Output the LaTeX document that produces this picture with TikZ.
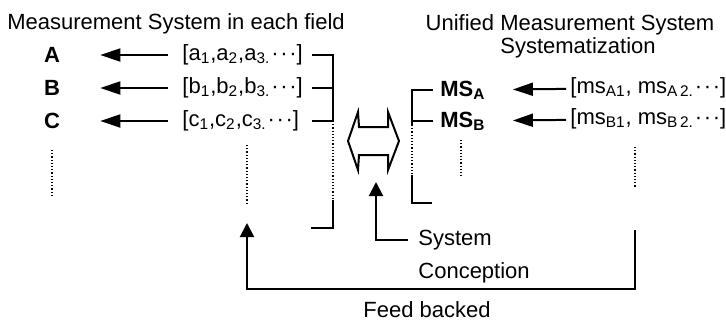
\documentclass[tikz,border=0pt]{standalone}
\usepackage{fontspec}
\setmainfont{Liberation Sans}
\usetikzlibrary{calc}
\usetikzlibrary{arrows.meta}
\tikzset{title/.style={inner sep=0, font=\fontsize{11}{13}\selectfont}}
\tikzset{field/.style={inner sep=0, font=\fontsize{11}{13}\selectfont\bfseries}}
\tikzset{list/.style={inner sep=0, anchor=west, font=\fontsize{11}{13}\selectfont}}
\tikzset{bracket/.style={draw, line width=1pt}}
\tikzset{dotline/.style={draw, densely dotted, line width=0.6pt}}
\tikzset{every edge/.style={draw, line width=1pt, -{Triangle[length=10pt, width=6.5pt]}}}
\tikzset{feed/.style={draw, line width=1pt, -{Triangle[length=7pt, width=7pt]}}}
\newcommand{\mdots}{\kern0.5pt·\kern0.8pt·\kern0.8pt·}

\begin{document}
\begin{tikzpicture}[x=0.5pt, y=-0.5pt]
  \useasboundingbox (0, 0) rectangle (726, 327);

  \node[title] at (176, 24) (left title) {Measurement System in each field};
  \node[title] at (570, 25) (right title) {Unified Measurement System};
  \node[title] at (578, 48) (sys) {Systematization};

  % fields and their lists
  \node[field] at (52, 55) (A) {A};
  \node[field] at (52, 88) (B) {B};
  \node[field] at (52, 121) (C) {C};

  \node[list, text width=58pt, align=left] at (182, 55) (La) {[a\textsubscript{1},a\textsubscript{2},a\textsubscript{3.}\mdots]};
  \node[list, text width=58pt, align=left] at (182, 88) (Lb) {[b\textsubscript{1},b\textsubscript{2},b\textsubscript{3.}\mdots]};
  \node[list, text width=58pt, align=left] at (182, 121) (Lc) {[c\textsubscript{1},c\textsubscript{2},c\textsubscript{3.}\mdots]};

  \draw (La) edge[shorten <=7pt, shorten >=20pt] (A);
  \draw (Lb) edge[shorten <=7pt, shorten >=20pt] (B);
  \draw (Lc) edge[shorten <=7pt, shorten >=20pt] (C);

  \draw[dotline] (52, 150) -- (52, 197);
  \draw[dotline] (247, 145) -- (247, 203);

  \coordinate (fork top) at (333, 55);
  \coordinate (fork gap) at (333, 121);
  \coordinate (fork low) at (333, 200);
  \coordinate (fork bot) at (333, 228);
  \draw[bracket] ([xshift=6.5pt]La.east) -- (La.east -| fork top) -- (fork gap);
  \draw[bracket] ([xshift=6.5pt]Lb.east) -- (Lb.east -| fork top);
  \draw[bracket] ([xshift=6.5pt]Lc.east) -- (Lc.east -| fork top);
  \draw[dotline] (fork gap) -- (fork low);
  \draw[bracket] (fork low) -- (fork bot) -- ++(-22, 0);

  % unified side
  \node[list, font=\fontsize{11}{13}\selectfont\bfseries] at (440, 90) (MSA) {MS\textsubscript{A}};
  \node[list, font=\fontsize{11}{13}\selectfont\bfseries] at (440, 121) (MSB) {MS\textsubscript{B}};

  \node[list] at (570, 88) (Ma) {[ms\textsubscript{A1}, ms\textsubscript{A\,2.}\mdots]};
  \node[list] at (570, 119) (Mb) {[ms\textsubscript{B1}, ms\textsubscript{B\,2.}\mdots]};

  \draw (Ma) edge[shorten <=2pt, shorten >=13.5pt] (MSA);
  \draw (Mb) edge[shorten <=2pt, shorten >=13.5pt] (MSB);

  \draw[dotline] (461, 140) -- (461, 177);
  \draw[dotline] (635, 147) -- (635, 187);

  \coordinate (join top) at (412, 88);
  \coordinate (join gap) at (412, 125);
  \coordinate (join low) at (412, 175);
  \coordinate (join bot) at (412, 203);
  \draw[bracket] ([xshift=-3.5pt]MSA.west) -- (MSA.west -| join top) -- (join gap);
  \draw[bracket] ([xshift=-3.5pt]MSB.west) -- (MSB.west -| join top);
  \draw[dotline] (join gap) -- (join low);
  \draw[bracket] (join low) -- (join bot) -- ++(20, 0);

  % conception
  \coordinate (dbl) at (374, 141);
  \draw[bracket, shift={(dbl)}] (-26, 0) -- (-16, -29) -- (-15, -14) -- (14, -14) -- (14, -29) -- (25, 0)
    -- (14, 29) -- (14, 14) -- (-15, 14) -- (-16, 29) -- cycle;

  \node[list] at (418, 240) (system) {System};
  \node[list] at (418, 273) (conception) {Conception};
  \coordinate (sc tip) at (376, 182);
  \draw[feed, shorten <=5pt] (system.west) -| (sc tip);

  % feed back
  \coordinate (fb start) at (635, 230);
  \coordinate (fb tip) at (247, 223);
  \draw[feed] (fb start) -- ++(0, 59) -| (fb tip);
  \node[title] at (427, 310) (fb) {Feed backed};
\end{tikzpicture}
\end{document}
